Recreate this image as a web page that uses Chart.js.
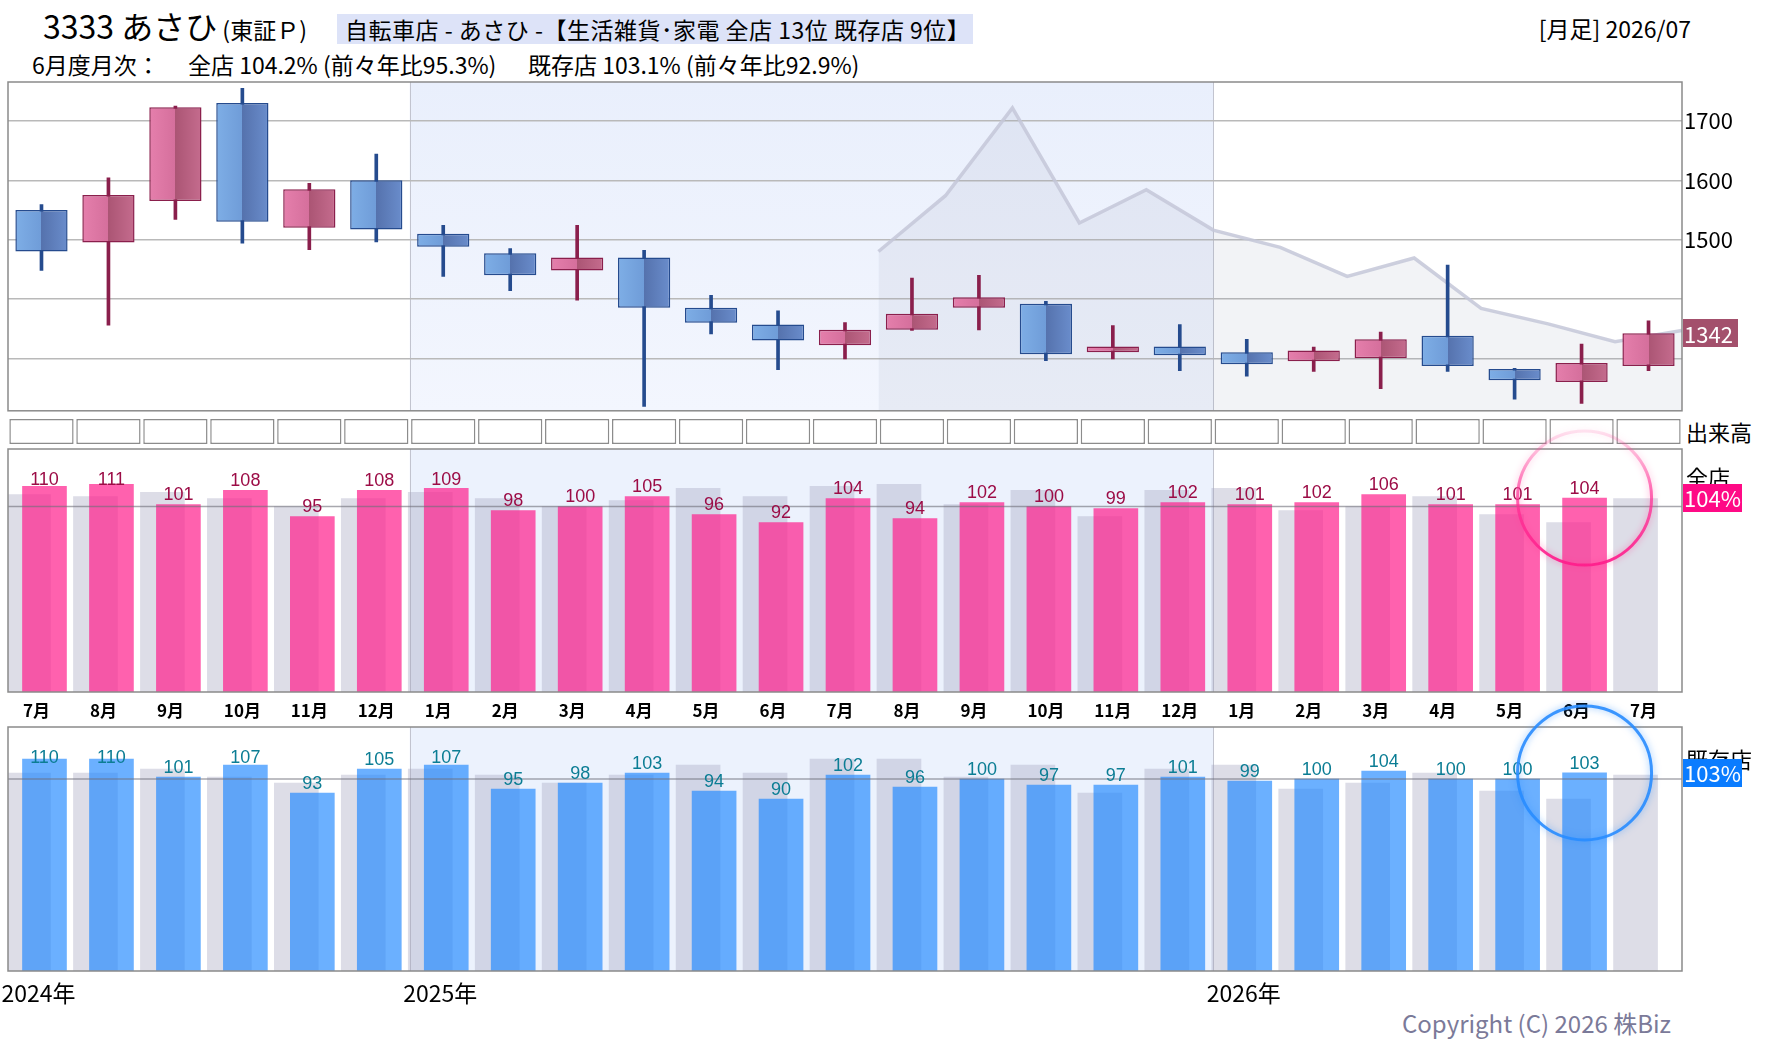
<!DOCTYPE html>
<html><head><meta charset="utf-8">
<script src="https://cdn.jsdelivr.net/npm/chart.js@4.4.1/dist/chart.umd.min.js"></script>
<style>
body{margin:0;background:#fff;width:1780px;height:1054px;position:relative;overflow:hidden;font-family:'Noto Sans CJK JP','Noto Sans',sans-serif;}
canvas{position:absolute;left:0;}
.t{position:absolute;white-space:nowrap;color:#000;line-height:1;}
</style></head><body>
<div class="t" style="left:43px;top:9px;font-size:32px;">3333 あさひ<span style="font-size:23px;"> (東証Ｐ)</span></div>
<div class="t" style="left:337px;top:14px;width:636px;height:30px;line-height:30px;background:#dde3f8;font-size:23px;padding-left:8px;box-sizing:border-box;letter-spacing:0.5px;">自転車店 - あさひ -【生活雑貨･家電 全店 13位 既存店 9位】</div>
<div class="t" style="right:89px;top:17px;font-size:23px;">[月足] 2026/07</div>
<div class="t" style="left:32px;top:53px;font-size:23px;">6月度月次：</div>
<div class="t" style="left:188px;top:53px;font-size:23px;">全店 104.2% (前々年比95.3%)</div>
<div class="t" style="left:528px;top:53px;font-size:23px;">既存店 103.1% (前々年比92.9%)</div>
<div class="t" style="left:1686px;top:420px;font-size:22px;">出来高</div>
<div class="t" style="left:1402px;top:1011px;font-size:24px;color:#7b7a99;">Copyright (C) 2026 株Biz</div>

<canvas id="cPrice" width="1780" height="364" style="top:62px"></canvas>
<canvas id="cVol" width="1780" height="40" style="top:410px"></canvas>
<canvas id="cZen" width="1780" height="302" style="top:420px"></canvas>
<canvas id="cKis" width="1780" height="316" style="top:700px"></canvas>

<script>
// ---------- data ----------
const months = ['7月','8月','9月','10月','11月','12月','1月','2月','3月','4月','5月','6月','7月','8月','9月','10月','11月','12月','1月','2月','3月','4月','5月','6月','7月'];
const yearLabels = ['2024年','','','','','','2025年','','','','','','','','','','','','2026年','','','','','',''];

const priceOpen  = [1550,1495,1565,1730,1520,1600,1510,1477,1448,1470,1385,1357,1322,1348,1385,1392,1310,1320,1310,1295,1300,1338,1282,1260,1287];
const priceHigh  = [1559,1604,1725,1755,1595,1644,1524,1485,1524,1482,1406,1380,1360,1435,1440,1396,1355,1357,1332,1319,1344,1457,1283,1324,1363];
const priceLow   = [1448,1356,1534,1494,1483,1496,1438,1414,1398,1219,1341,1281,1299,1347,1348,1296,1299,1279,1270,1278,1249,1278,1231,1224,1279];
const priceClose = [1480,1575,1723,1530,1585,1517,1488,1440,1470,1385,1360,1330,1348,1375,1403,1307,1320,1305,1290,1313,1332,1287,1263,1292,1342];
const priceTicks = [1300,1400,1500,1600,1700];
const priceTickShown = [1500,1600,1700];

const refLineStart = 13;   // starts at the left edge of 2025/8
const refLine = [1480,1574,1722,1528,1584,1516,1487,1438,1469,1384,1358,1328,1347];

const volumeBox = [1,1,1,1,1,1,1,1,1,1,1,1,1,1,1,1,1,1,1,1,1,1,1,1,1];

const zenten     = [110,111,101,108,95,108,109,98,100,105,96,92,104,94,102,100,99,102,101,102,106,101,101,104.2,null];
const zentenPrev = [106,105,107,104,100,104,107,104,100,103,109,105,110,111,101,108,95,108,109,98,100,105,96,92,104];
const kison      = [110,110,101,107,93,105,107,95,98,103,94,90,102,96,100,97,97,101,99,100,104,100,100,103.1,null];
const kisonPrev  = [103,103,105,101,98,102,105,102,98,102,107,103,110,110,101,107,93,105,107,95,98,103,94,90,102];

const latestIndex = 23;
const lastClose = priceClose[priceClose.length - 1];

// ---------- plugins ----------
Chart.defaults.font.family = "'Noto Sans CJK JP','Noto Sans',sans-serif";

function halfSlot(chart){ const a = chart.chartArea; return (a.right - a.left) / months.length / 2; }

const panelPlugin = {
  id: 'panel',
  beforeDraw(chart, args, o) {
    if (!o.on) return;
    const {ctx, chartArea: a} = chart;
    const xs = chart.scales.x, h = halfSlot(chart);
    ctx.save();
    ctx.fillStyle = '#fff';
    ctx.fillRect(a.left, a.top, a.right - a.left, a.bottom - a.top);
    const x0 = xs.getPixelForValue(6) - h, x1 = xs.getPixelForValue(17) + h;
    let fill = '#ecf2fd';
    if (o.gradient) {
      fill = ctx.createLinearGradient(0, a.top, 0, a.bottom);
      fill.addColorStop(0, '#e9effc'); fill.addColorStop(1, '#f3f6fe');
    }
    ctx.fillStyle = fill;
    ctx.fillRect(x0, a.top, x1 - x0, a.bottom - a.top);
    ctx.strokeStyle = '#c2c4cf'; ctx.lineWidth = 1;
    [6, 18].forEach(d => {
      const x = Math.round(xs.getPixelForValue(d) - h) + 0.5;
      ctx.beginPath(); ctx.moveTo(x, a.top); ctx.lineTo(x, a.bottom); ctx.stroke();
    });
    ctx.restore();
  },
  afterDraw(chart, args, o) {
    if (!o.on) return;
    const {ctx, chartArea: a} = chart;
    ctx.save();
    ctx.strokeStyle = '#8a8a8a'; ctx.lineWidth = 1.5;
    ctx.strokeRect(a.left, a.top, a.right - a.left, a.bottom - a.top);
    ctx.restore();
  }
};

const valuePlugin = {
  id: 'vlabels',
  afterDatasetsDraw(chart, args, o) {
    if (o.datasetIndex == null) return;
    const {ctx, chartArea: a} = chart;
    const y100 = chart.scales.y.getPixelForValue(100);
    ctx.save();
    ctx.strokeStyle = 'rgba(110,110,120,0.6)'; ctx.lineWidth = 1.5;
    ctx.beginPath(); ctx.moveTo(a.left, y100); ctx.lineTo(a.right, y100); ctx.stroke();
    const meta = chart.getDatasetMeta(o.datasetIndex);
    const ds = chart.data.datasets[o.datasetIndex];
    ctx.font = "18px 'Liberation Sans Narrow','Liberation Sans',sans-serif";
    ctx.fillStyle = o.color; ctx.textAlign = 'center'; ctx.textBaseline = 'alphabetic';
    meta.data.forEach((el, i) => {
      const v = ds.data[i].y;
      if (v == null) return;
      const y = Math.max(el.y - 4, a.top + 36);
      ctx.fillText(String(Math.round(v)), el.x, y);
    });
    ctx.restore();
  }
};

const ringPlugin = {
  id: 'ring',
  afterDraw(chart, args, o) {
    if (o.datasetIndex == null) return;
    const el = chart.getDatasetMeta(o.datasetIndex).data[latestIndex];
    const {ctx} = chart;
    const r = 67;
    ctx.save();
    let stroke = o.color;
    if (o.fadeTop) {
      stroke = ctx.createLinearGradient(0, el.y - r, 0, el.y + r);
      stroke.addColorStop(0, 'rgba(255,80,160,0.15)');
      stroke.addColorStop(0.45, 'rgba(255,50,150,0.7)');
      stroke.addColorStop(1, 'rgba(255,30,140,0.95)');
    }
    ctx.strokeStyle = stroke; ctx.lineWidth = 3;
    ctx.shadowColor = o.glow; ctx.shadowBlur = 7;
    ctx.beginPath(); ctx.ellipse(el.x, el.y, r, r, 0, 0, Math.PI * 2); ctx.stroke();
    ctx.restore();
  }
};

const tagPlugin = {
  id: 'tag',
  afterDraw(chart, args, o) {
    if (!o.text) return;
    const {ctx, chartArea: a} = chart;
    const y = chart.scales.y.getPixelForValue(o.value);
    ctx.save();
    ctx.textAlign = 'left'; ctx.textBaseline = 'middle';
    if (o.title) {
      ctx.font = "22px 'Noto Sans CJK JP'"; ctx.fillStyle = '#000';
      ctx.fillText(o.title, a.right + 4, a.top + o.titleOffset);
    }
    ctx.fillStyle = o.color;
    ctx.fillRect(a.right + 1, Math.round(y - 14), o.width, 28);
    ctx.fillStyle = '#fff'; ctx.font = "22px 'Noto Sans CJK JP'";
    ctx.fillText(o.text, a.right + 2, y + 1);
    ctx.restore();
  }
};

Chart.register(panelPlugin, valuePlugin, ringPlugin, tagPlugin);

const baseOpts = {
  responsive: false, animation: false, events: [],
  plugins: { legend: {display: false}, tooltip: {enabled: false} }
};

// ---------- price chart ----------
function candleFill(ctx) {
  const chart = ctx.chart, i = ctx.dataIndex;
  const up = priceClose[i] >= priceOpen[i];
  if (!chart.chartArea) return up ? '#d06a95' : '#6a8fcf';
  const x = chart.scales.x.getPixelForValue(i);
  const w = (chart.chartArea.right - chart.chartArea.left) / months.length * 0.78;
  const g = chart.ctx.createLinearGradient(x - w / 2, 0, x + w / 2, 0);
  if (up) {
    g.addColorStop(0, '#e57fac'); g.addColorStop(0.5, '#d56f9c');
    g.addColorStop(0.5, '#ab5574'); g.addColorStop(1, '#c56c8e');
  } else {
    g.addColorStop(0, '#7eaee6'); g.addColorStop(0.5, '#6f9cd8');
    g.addColorStop(0.5, '#5572ad'); g.addColorStop(1, '#6a8dcc');
  }
  return g;
}
const candleEdge = priceClose.map((c, i) => c >= priceOpen[i] ? '#8a1f4c' : '#254b8e');

new Chart(document.getElementById('cPrice'), {
  type: 'bar',
  data: {
    labels: months,
    datasets: [
      { type: 'line', xAxisID: 'x2', order: 10,
        data: refLine.map((v, k) => ({x: refLineStart + k - 0.5, y: v})),
        borderColor: 'rgba(196,199,216,0.85)', borderWidth: 3.5,
        backgroundColor: 'rgba(150,155,185,0.12)', fill: 'start',
        pointRadius: 0, tension: 0 },
      { order: 2, grouped: false, barThickness: 3,
        data: priceLow.map((l, i) => [l, priceHigh[i]]),
        backgroundColor: candleEdge, borderWidth: 0 },
      { order: 1, grouped: false, barPercentage: 0.78, categoryPercentage: 1,
        data: priceOpen.map((o, i) => [o, priceClose[i]]),
        backgroundColor: candleFill, borderColor: candleEdge,
        borderWidth: 1.5, borderSkipped: false }
    ]
  },
  options: {
    ...baseOpts,
    layout: { padding: {left: 8, top: 20, bottom: 12, right: 0} },
    scales: {
      x: { display: false, offset: true },
      x2: { type: 'linear', display: false, offset: false, min: -0.5, max: months.length - 0.5 },
      y: { position: 'right', min: 1211.5, max: 1765.6,
        afterBuildTicks: s => { s.ticks = priceTicks.map(v => ({value: v})); },
        afterFit: s => { s.width = 98; },
        grid: { color: '#b9b9b9', lineWidth: 1.5, drawTicks: false },
        border: { display: false },
        ticks: { padding: 2, color: '#000', font: {size: 22},
          callback: v => priceTickShown.includes(v) ? String(v) : '' } }
    },
    plugins: { ...baseOpts.plugins,
      panel: { on: true, gradient: true },
      tag: { text: String(lastClose), value: lastClose, color: '#a3506c', width: 55 } }
  }
});

// ---------- volume strip ----------
new Chart(document.getElementById('cVol'), {
  type: 'bar',
  data: { labels: months,
    datasets: [{ data: volumeBox, backgroundColor: '#fff', borderColor: '#8c8c8c',
      borderWidth: 1.5, borderSkipped: false, barPercentage: 0.96, categoryPercentage: 1 }] },
  options: { ...baseOpts,
    layout: { padding: {left: 8, right: 98, top: 9, bottom: 6} },
    scales: { x: {display: false}, y: {display: false, min: 0, max: 1} } }
});

// ---------- monthly ratio panels ----------
function ratioChart(id, cur, prev, curColor, labelColor, yMin, yMax, padTop, xAxis, ring, tag) {
  return new Chart(document.getElementById(id), {
    type: 'bar',
    data: { labels: months,
      datasets: [
        { xAxisID: 'xb', grouped: false, barThickness: 44, order: 2,
          data: prev.map((v, i) => ({x: i - 0.194, y: v})),
          backgroundColor: 'rgba(160,162,188,0.36)' },
        { xAxisID: 'xb', grouped: false, barThickness: 44, order: 1,
          data: cur.map((v, i) => ({x: i + 0.045, y: v})),
          backgroundColor: curColor }
      ] },
    options: { ...baseOpts,
      layout: { padding: {left: 8, right: 98, top: padTop, bottom: 0} },
      scales: {
        x: xAxis,
        xb: { type: 'linear', display: false, offset: false, min: -0.5, max: months.length - 0.5 },
        y: { display: false, min: yMin, max: yMax }
      },
      plugins: { ...baseOpts.plugins,
        panel: { on: true },
        vlabels: { datasetIndex: 1, color: labelColor },
        ring: ring,
        tag: tag }
    }
  });
}

ratioChart('cZen', zenten, zentenPrev, 'rgba(255,30,140,0.7)', '#9c0c46', 7.35, 128.7, 29,
  { position: 'bottom', offset: true, grid: {display: false}, border: {display: false},
    afterFit: s => { s.height = 30; },
    ticks: { color: '#000', font: {size: 17, weight: 'bold'}, padding: 0, align: 'start',
      labelOffset: -18.5, autoSkip: false, maxRotation: 0 } },
  { datasetIndex: 1, color: '#ff3a9c', glow: 'rgba(255,60,150,0.6)', fadeTop: true },
  { text: Math.round(zenten[latestIndex]) + '%', value: zenten[latestIndex], color: '#ff0a86',
    width: 59, title: '全店', titleOffset: 29 });

ratioChart('cKis', kison, kisonPrev, 'rgba(30,135,255,0.66)', '#0b7d94', 4.2, 126, 27,
  { position: 'bottom', offset: true, grid: {display: false}, border: {display: false},
    afterFit: s => { s.height = 45; },
    ticks: { color: '#000', font: {size: 23}, padding: 0, align: 'start',
      labelOffset: -40, autoSkip: false, maxRotation: 0,
      callback: (v, i) => yearLabels[i] } },
  { datasetIndex: 1, color: 'rgba(40,140,255,0.9)', glow: 'rgba(40,140,255,0.6)' },
  { text: Math.round(kison[latestIndex]) + '%', value: kison[latestIndex], color: '#0a7cff',
    width: 59, title: '既存店', titleOffset: 33 });
</script>
</body></html>
